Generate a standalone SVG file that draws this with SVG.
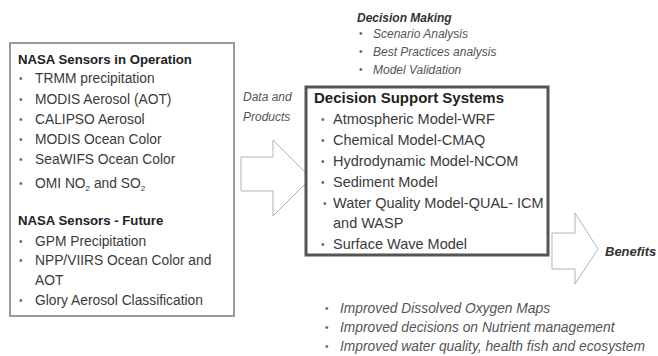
<svg xmlns="http://www.w3.org/2000/svg" width="658" height="356" viewBox="0 0 658 356">
<style>
text{font-family:"Liberation Sans",Arial,sans-serif;fill:#3a3a3a}
.h{font-weight:bold;fill:#222;font-size:13.2px}
.i{font-size:13.8px}
.dh{font-weight:bold;fill:#222;font-size:15px}
.di{font-size:14.5px}
.it{font-style:italic;fill:#555;font-size:12px}
.bi{font-style:italic;font-weight:bold;fill:#333;font-size:12px}
.ben{font-style:italic;font-weight:bold;fill:#333;font-size:13px}
.bl{font-style:italic;fill:#555;font-size:13.8px}
.b{font-size:10px;fill:#666}
.box1{fill:#fff;stroke:#999;stroke-width:2}
.box2{fill:#fff;stroke:#555;stroke-width:3}
.arr{fill:#fff;stroke:#aaa;stroke-width:0.9}
</style>
<rect width="658" height="356" fill="#fff"/>
<g id="connectors">
<polygon class="arr" points="241,157 273,157 273,140 311,178 273,216 273,191 241,191"/>
<polygon class="arr" points="552,233 575,233 575,213 598,249 575,284 575,269 552,269"/>
</g>
<g id="sensors">
<rect class="box1" x="10" y="43" width="224" height="273"/>
<text class="h" x="18" y="64">NASA Sensors in Operation</text>
<text class="b" x="19" y="82">•</text><text class="i" x="35" y="83">TRMM precipitation</text>
<text class="b" x="19" y="103">•</text><text class="i" x="35" y="104">MODIS Aerosol (AOT)</text>
<text class="b" x="19" y="123">•</text><text class="i" x="35" y="124">CALIPSO Aerosol</text>
<text class="b" x="19" y="143">•</text><text class="i" x="35" y="144">MODIS Ocean Color</text>
<text class="b" x="19" y="163">•</text><text class="i" x="35" y="164">SeaWIFS Ocean Color</text>
<text class="b" x="19" y="187">•</text><text class="i" x="35" y="188">OMI NO<tspan font-size="8" dy="3">2</tspan><tspan dy="-3"> and SO</tspan><tspan font-size="8" dy="3">2</tspan></text>
<text class="h" x="18" y="225">NASA Sensors - Future</text>
<text class="b" x="19" y="245">•</text><text class="i" x="35" y="246">GPM Precipitation</text>
<text class="b" x="19" y="264">•</text><text class="i" x="35" y="265">NPP/VIIRS Ocean Color and</text>
<text class="i" x="35" y="285">AOT</text>
<text class="b" x="19" y="304">•</text><text class="i" x="35" y="305">Glory Aerosol Classification</text>
</g>
<g id="data-products">
<text class="it" x="243" y="101">Data and</text>
<text class="it" x="243" y="121">Products</text>
</g>
<g id="decision-making">
<text class="bi" x="357" y="22">Decision Making</text>
<text class="b" x="359" y="37">•</text><text class="it" x="373" y="38">Scenario Analysis</text>
<text class="b" x="359" y="55">•</text><text class="it" x="373" y="56">Best Practices analysis</text>
<text class="b" x="359" y="73">•</text><text class="it" x="373" y="74">Model Validation</text>
</g>
<g id="dss">
<rect class="box2" x="306" y="87" width="242" height="168"/>
<text class="dh" x="314" y="103">Decision Support Systems</text>
<text class="b" x="321" y="123">•</text><text class="di" x="333" y="124">Atmospheric Model-WRF</text>
<text class="b" x="321" y="144">•</text><text class="di" x="333" y="145">Chemical Model-CMAQ</text>
<text class="b" x="321" y="165">•</text><text class="di" x="333" y="166">Hydrodynamic Model-NCOM</text>
<text class="b" x="321" y="186">•</text><text class="di" x="333" y="187">Sediment Model</text>
<text class="b" x="323" y="207">•</text><text class="di" x="333" y="208">Water Quality Model-QUAL- ICM</text>
<text class="di" x="333" y="228">and WASP</text>
<text class="b" x="321" y="248">•</text><text class="di" x="333" y="249">Surface Wave Model</text>
</g>
<g id="benefits">
<text class="ben" x="605" y="256">Benefits</text>
<text class="b" x="325" y="312">•</text><text class="bl" x="340" y="313">Improved Dissolved Oxygen Maps</text>
<text class="b" x="325" y="331">•</text><text class="bl" x="340" y="332">Improved decisions on Nutrient management</text>
<text class="b" x="325" y="350">•</text><text class="bl" x="340" y="351">Improved water quality, health fish and ecosystem</text>
</g>
</svg>
